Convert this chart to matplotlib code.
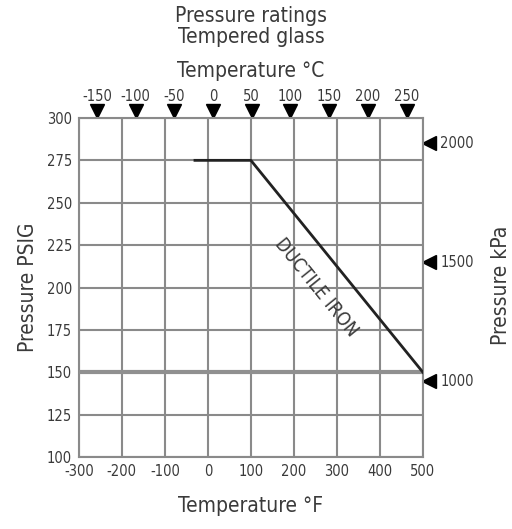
import matplotlib
matplotlib.use("Agg")
import matplotlib.pyplot as plt
import matplotlib.transforms as mtransforms

plt.rcParams['font.family'] = ['DejaVu Sans']
plt.rcParams['font.stretch'] = 'condensed'
plt.rcParams['axes.unicode_minus'] = False

# Data
temp_f = [-30, 100, 500]
pressure_psig = [275, 275, 150]
glass_f = [-300, 500]
glass_psig = [150, 150]

x_ticks_f = [-300, -200, -100, 0, 100, 200, 300, 400, 500]
y_ticks_psig = [100, 125, 150, 175, 200, 225, 250, 275, 300]
c_ticks = [-150, -100, -50, 0, 50, 100, 150, 200, 250]
kpa_ticks = [1000, 1500, 2000]

TXT = '#3a3a3a'
GRID = '#8a8a8a'

def c_to_f(c):
    return 1.8 * c + 12

def kpa_to_psi(k):
    return 0.1406 * k + 4

fig = plt.figure(figsize=(5.12, 5.29), dpi=100)
ax = fig.add_axes([0.154, 0.136, 0.672, 0.641])
ax.set_xlim(-300, 500)
ax.set_ylim(100, 300)
ax.set_xticks(x_ticks_f)
ax.set_yticks(y_ticks_psig)
ax.grid(True, color=GRID, lw=1.5)
ax.tick_params(length=0, labelsize=10.5, colors=TXT, pad=5)
for s in ax.spines.values():
    s.set_color(GRID)
    s.set_linewidth(1.5)

ax.plot(glass_f, glass_psig, color='#909090', lw=3, solid_capstyle='butt', zorder=3)
ax.plot(temp_f, pressure_psig, color='#222222', lw=2, zorder=4)

ax.text(251, 200, 'DUCTILE IRON', rotation=-51, rotation_mode='anchor',
        ha='center', va='center', fontsize=13.5, color=TXT)

# Top Celsius markers
trans_top = mtransforms.blended_transform_factory(ax.transData, ax.transAxes)
cf = [c_to_f(c) for c in c_ticks]
ax.plot(cf, [1.02] * len(cf), 'v', color='black', ms=10, transform=trans_top, clip_on=False)
for c, f in zip(c_ticks, cf):
    ax.text(f, 1.04, str(c), transform=trans_top, ha='center', va='bottom', fontsize=10.5, color=TXT)

# Right kPa markers
trans_right = mtransforms.blended_transform_factory(ax.transAxes, ax.transData)
kp = [kpa_to_psi(k) for k in kpa_ticks]
ax.plot([1.018] * len(kp), kp, '<', color='black', ms=10, transform=trans_right, clip_on=False)
for k, p in zip(kpa_ticks, kp):
    ax.text(1.05, p, str(k), transform=trans_right, ha='left', va='center', fontsize=10.5, color=TXT)

ax.set_ylabel('Pressure PSIG', fontsize=15, color=TXT, labelpad=6)
ax.set_xlabel('Temperature °F', fontsize=15, color=TXT, labelpad=12)
fig.text(0.978, 0.46, 'Pressure kPa', rotation=90, ha='center', va='center', fontsize=15, color=TXT)
fig.text(0.49, 0.866, 'Temperature °C', ha='center', va='center', fontsize=15, color=TXT)
fig.text(0.49, 0.970, 'Pressure ratings', ha='center', va='center', fontsize=15, color=TXT)
fig.text(0.49, 0.930, 'Tempered glass', ha='center', va='center', fontsize=15, color=TXT)

fig.savefig('out.png', dpi=100, facecolor='white')
